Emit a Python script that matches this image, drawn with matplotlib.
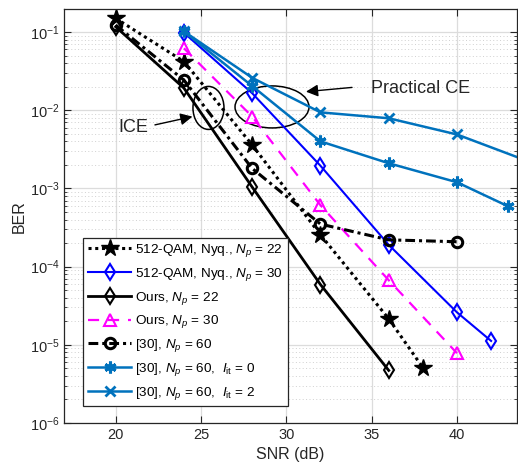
import matplotlib
matplotlib.use("Agg")
import matplotlib.pyplot as plt
from matplotlib.patches import Ellipse
from matplotlib.ticker import LogLocator, FixedLocator, NullFormatter

plt.rcParams['font.family'] = ['Liberation Sans', 'DejaVu Sans']
plt.rcParams['mathtext.fontset'] = 'custom'
plt.rcParams['mathtext.rm'] = 'Liberation Sans'
plt.rcParams['mathtext.it'] = 'Liberation Sans:italic'
plt.rcParams['mathtext.bf'] = 'Liberation Sans:bold'

# ---- data ----
snr_nyq22 = [20, 24, 28, 32, 36, 38]
ber_nyq22 = [0.15, 0.042, 0.0036, 2.55e-4, 2.15e-5, 5.1e-6]

snr_nyq30 = [24, 28, 32, 36, 40, 42]
ber_nyq30 = [0.098, 0.0165, 0.00195, 1.9e-4, 2.6e-5, 1.12e-5]

snr_ours22 = [20, 24, 28, 32, 36]
ber_ours22 = [0.117, 0.0192, 0.00104, 5.9e-5, 4.7e-6]

snr_ours30 = [24, 28, 32, 36, 40]
ber_ours30 = [0.062, 0.0083, 6.1e-4, 6.7e-5, 7.8e-6]

snr_ref60 = [20, 24, 28, 32, 36, 40]
ber_ref60 = [0.123, 0.0243, 0.0018, 3.5e-4, 2.2e-4, 2.08e-4]

snr_it0 = [24, 28, 32, 36, 40, 43]
ber_it0 = [0.102, 0.0204, 0.0040, 0.0021, 0.0012, 5.9e-4]

snr_it2 = [24, 28, 32, 36, 40, 44]
ber_it2 = [0.102, 0.026, 0.0094, 0.0079, 0.0049, 0.0023]

labels = [r'512-QAM, Nyq., $N_p$ = 22',
          r'512-QAM, Nyq., $N_p$ = 30',
          r'Ours, $N_p$ = 22',
          r'Ours, $N_p$ = 30',
          r'[30], $N_p$ = 60',
          r'[30], $N_p$ = 60,  $I_{\rm it}$ = 0',
          r'[30], $N_p$ = 60,  $I_{\rm it}$ = 2']

xticks = [20, 25, 30, 35, 40]
yticks = [1e-6, 1e-5, 1e-4, 1e-3, 1e-2, 1e-1]
ytick_labels = [r'$10^{-6}$', r'$10^{-5}$', r'$10^{-4}$', r'$10^{-3}$', r'$10^{-2}$', r'$10^{-1}$']

fig = plt.figure(figsize=(5.18, 4.71), dpi=100)
ax = fig.add_axes([0.1245, 0.102, 0.873, 0.878])

mblue = '#0072BD'
ax.plot(snr_nyq22, ber_nyq22, color='black', ls=(0, (1, 1.2)), lw=2.2,
        marker='*', ms=13, mfc='black', mec='black', label=labels[0])
ax.plot(snr_nyq30, ber_nyq30, color='#0000FF', ls='-', lw=1.5,
        marker='d', ms=8, mfc='none', mec='#0000FF', mew=1.5, label=labels[1])
ax.plot(snr_ours22, ber_ours22, color='black', ls='-', lw=2.0,
        marker='d', ms=8, mfc='none', mec='black', mew=1.5, label=labels[2])
ax.plot(snr_ours30, ber_ours30, color='#FF00FF', ls=(0, (5, 4)), lw=1.6,
        marker='^', ms=8.5, mfc='none', mec='#FF00FF', mew=1.5, label=labels[3])
ax.plot(snr_ref60, ber_ref60, color='black', ls=(0, (3.2, 1.3, 1.0, 1.3)), lw=2.2,
        marker='o', ms=7.5, mfc='none', mec='black', mew=2.2, label=labels[4])
ax.plot(snr_it0, ber_it0, color=mblue, ls='-', lw=1.8,
        marker=(6, 2, 0), ms=8.5, mfc=mblue, mec=mblue, mew=2.2, label=labels[5])
ax.plot(snr_it2, ber_it2, color=mblue, ls='-', lw=1.8,
        marker='x', ms=6.5, mfc=mblue, mec=mblue, mew=2.0, label=labels[6])

ax.set_yscale('log')
ax.set_xlim(17, 43.5)
ax.set_ylim(1e-6, 0.195)
ax.xaxis.set_major_locator(FixedLocator(xticks))
ax.set_yticks(yticks)
ax.set_yticklabels(ytick_labels)
ax.yaxis.set_minor_locator(LogLocator(base=10, subs=range(2, 10), numticks=20))
ax.yaxis.set_minor_formatter(NullFormatter())

ax.grid(True, which='major', color='#dcdcdc', lw=0.9)
ax.grid(True, which='minor', axis='y', color='#d0d0d0', lw=0.7, ls=(0, (1, 2.5)))
ax.set_axisbelow(True)
ax.tick_params(which='both', direction='in', top=True, right=True, colors='#262626',
               labelsize=10.5, length=5)
ax.tick_params(which='minor', length=2.5)
for s in ax.spines.values():
    s.set_color('#262626')
    s.set_linewidth(0.9)

ax.set_xlabel('SNR (dB)', fontsize=11.5, color='#262626', labelpad=4)
ax.set_ylabel('BER', fontsize=11.5, color='#262626', labelpad=2)

# annotations
ax.add_patch(Ellipse((0.3184, 0.7618), 0.0686, 0.104, transform=ax.transAxes,
                     fill=False, ec='black', lw=1.1))
ax.add_patch(Ellipse((0.4589, 0.7642), 0.1636, 0.1016, transform=ax.transAxes,
                     fill=False, ec='black', lw=1.1))
ax.annotate('', xy=(24.5, 0.0083), xytext=(22.3, 0.0065),
            arrowprops=dict(arrowstyle='-|>', color='black', lw=1.0,
                            mutation_scale=18, shrinkA=0, shrinkB=0))
ax.text(21.05, 0.0061, 'ICE', fontsize=13, ha='center', va='center', color='#262626')
ax.annotate('', xy=(31.15, 0.0173), xytext=(33.85, 0.0196),
            arrowprops=dict(arrowstyle='-|>', color='black', lw=1.0,
                            mutation_scale=18, shrinkA=0, shrinkB=0))
ax.text(34.95, 0.019, 'Practical CE', fontsize=13, ha='left', va='center', color='#262626')

leg = ax.legend(loc='lower left', bbox_to_anchor=(0.042, 0.04), fontsize=9.7,
                handlelength=3.2, handletextpad=0.3, labelspacing=0.5,
                borderpad=0.35, borderaxespad=0, fancybox=False, framealpha=1,
                edgecolor='#262626')
leg.get_frame().set_linewidth(0.9)

fig.savefig('out.png', dpi=100)
